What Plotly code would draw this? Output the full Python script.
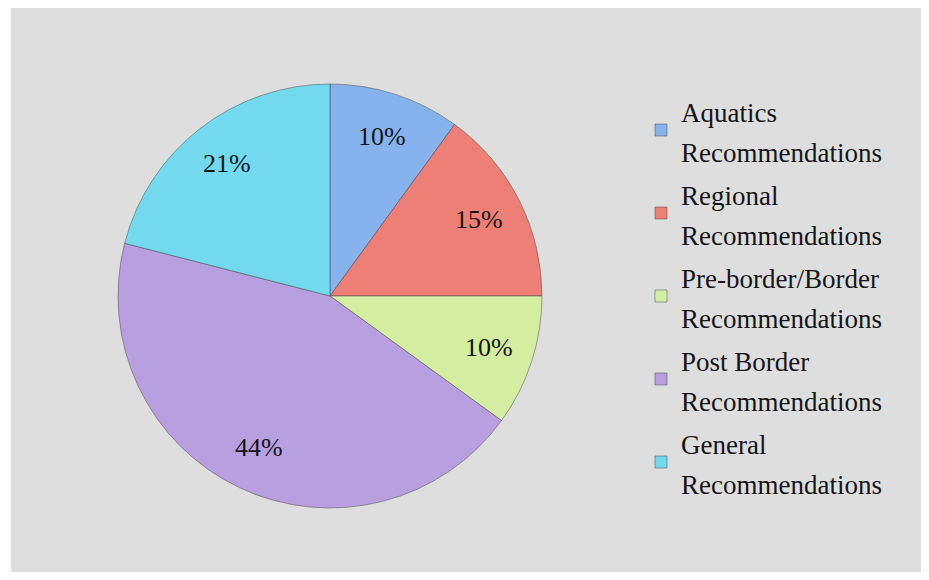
import math
import plotly.graph_objects as go

# ---- data ----
categories = [
    "Aquatics Recommendations",
    "Regional Recommendations",
    "Pre-border/Border Recommendations",
    "Post Border Recommendations",
    "General Recommendations",
]
shares = [10, 15, 10, 44, 21]
colors = ["#86B3EE", "#EE7F76", "#D5EDA1", "#B8A0E0", "#72D9EE"]

# ---- layout geometry ----
# the page body has an 8px margin; figure sized to fit the 929x580 window
OFF = 8
W, H = 929 - OFF, 580 - OFF
panel_l, panel_t, panel_r, panel_b = 11, 8, 923, 572   # gray panel in page px
ml, mt = panel_l - OFF, panel_t - OFF
mr, mb = (OFF + W) - panel_r, (OFF + H) - panel_b
pw, ph = panel_r - panel_l, panel_b - panel_t
cx_px, cy_px, R = 330, 296, 212   # pie centre / radius in page px
TEXT_PX = 26
LEGEND_PX = 27
FONT = "Liberation Serif, Times New Roman, serif"


def to_paper(x, y):
    return (x - panel_l) / pw, 1 - (y - panel_t) / ph


def legend_label(name):
    first, last = name.rsplit(" ", 1)
    return "<br>".join(
        f"<span style='font-size:{LEGEND_PX}px'>{part}</span>" for part in (first, last)
    )


x0, y1 = to_paper(cx_px - R, cy_px - R)
x1, y0 = to_paper(cx_px + R, cy_px + R)

fig = go.Figure(
    go.Pie(
        labels=[legend_label(c) for c in categories],
        values=shares,
        sort=False,
        direction="clockwise",
        rotation=0,
        marker=dict(colors=colors, line=dict(color="rgba(60,60,60,0.45)", width=1)),
        textinfo="none",
        domain=dict(x=[x0, x1], y=[y0, y1]),
        hoverinfo="label+percent",
    )
)

# percentage labels placed along each slice's mid-angle
total = sum(shares)
cum = 0
annotations = []
for v in shares:
    mid = (cum + v / 2) / total * 2 * math.pi
    cum += v
    r = 0.79 * R
    lx = cx_px + r * math.sin(mid)
    ly = cy_px - r * math.cos(mid)
    ax, ay = to_paper(lx, ly)
    annotations.append(
        dict(
            x=ax, y=ay, xref="paper", yref="paper",
            text=f"{round(v / total * 100)}%",
            showarrow=False,
            font=dict(family=FONT, size=TEXT_PX, color="#151515"),
            xanchor="center", yanchor="middle",
        )
    )

leg_x, leg_y = to_paper(641, 296.5)
fig.update_layout(
    width=W,
    height=H,
    margin=dict(l=ml, r=mr, t=mt, b=mb, pad=0),
    paper_bgcolor="white",
    font=dict(family=FONT, color="#151515"),
    shapes=[
        dict(type="rect", xref="paper", yref="paper", x0=0, x1=1, y0=0, y1=1,
             fillcolor="#DEDEDE", line=dict(width=0), layer="below")
    ],
    annotations=annotations,
    showlegend=True,
    legend=dict(
        x=leg_x, y=leg_y, xanchor="left", yanchor="middle",
        # legend line height chosen so entries are spaced like the reference
        font=dict(family=FONT, size=30.77, color="#151515"),
        bgcolor="rgba(0,0,0,0)",
        itemclick=False,
    ),
)

fig.write_html("out.html")
